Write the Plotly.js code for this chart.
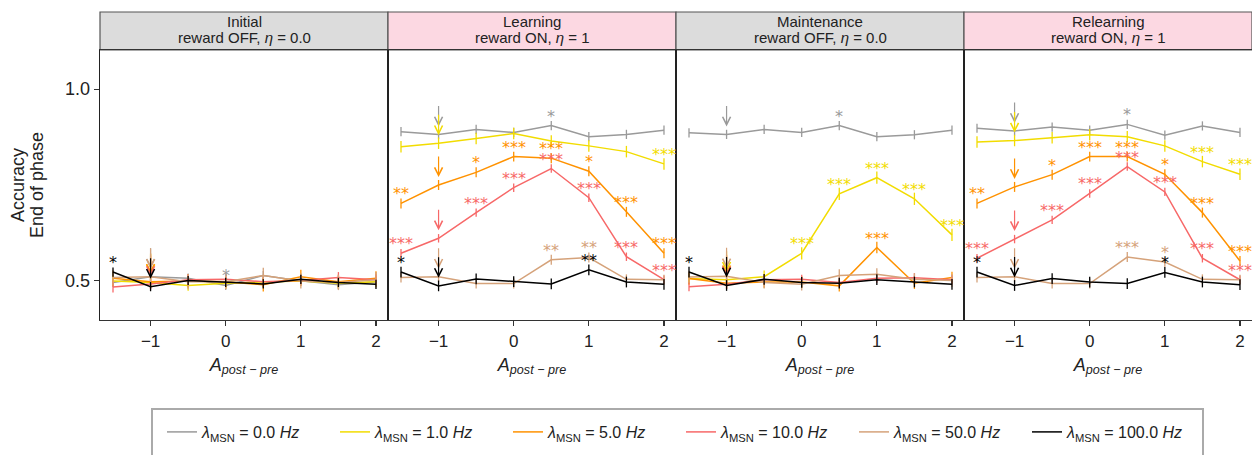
<!DOCTYPE html>
<html>
<head>
<meta charset="utf-8">
<script src="https://cdn.plot.ly/plotly-3.0.1.min.js"></script>
<style>html,body{margin:0;padding:0;background:#fff;}#chart{width:1252px;height:455px;}</style>
</head>
<body>
<div id="chart"></div>
<script>
// ---------------- data ----------------
const xVals = [-1.5, -1, -0.5, 0, 0.5, 1, 1.5, 2];
const rateLabels = ['0.0', '1.0', '5.0', '10.0', '50.0', '100.0'];
const phaseNames = ['Initial', 'Learning', 'Maintenance', 'Relearning'];
const phaseSubtitles = ['reward OFF, <i>η</i> = 0.0', 'reward ON, <i>η</i> = 1', 'reward OFF, <i>η</i> = 0.0', 'reward ON, <i>η</i> = 1'];
const rewardOn = [false, true, false, true];

// rows: lambda = 0, 1, 5, 10, 50, 100 Hz
const initialAcc = [
  [0.496, 0.511, 0.507, 0.488, 0.514, 0.500, 0.490, 0.498],
  [0.500, 0.496, 0.488, 0.494, 0.497, 0.500, 0.494, 0.498],
  [0.507, 0.498, 0.500, 0.498, 0.490, 0.511, 0.498, 0.507],
  [0.484, 0.492, 0.503, 0.504, 0.498, 0.501, 0.509, 0.503],
  [0.509, 0.511, 0.498, 0.498, 0.514, 0.500, 0.496, 0.503],
  [0.523, 0.485, 0.501, 0.496, 0.492, 0.504, 0.496, 0.491]
];
const learningAcc = [
  [0.889, 0.882, 0.895, 0.887, 0.905, 0.876, 0.882, 0.893],
  [0.850, 0.859, 0.871, 0.884, 0.865, 0.852, 0.837, 0.805],
  [0.702, 0.750, 0.783, 0.824, 0.820, 0.786, 0.680, 0.572],
  [0.572, 0.611, 0.678, 0.743, 0.793, 0.717, 0.563, 0.503],
  [0.509, 0.511, 0.493, 0.493, 0.555, 0.561, 0.504, 0.503],
  [0.523, 0.487, 0.505, 0.498, 0.492, 0.529, 0.497, 0.491]
];
const maintenanceAcc = [
  [0.886, 0.882, 0.895, 0.887, 0.905, 0.876, 0.881, 0.893],
  [0.506, 0.503, 0.511, 0.572, 0.727, 0.769, 0.714, 0.620],
  [0.506, 0.494, 0.497, 0.497, 0.487, 0.587, 0.494, 0.509],
  [0.485, 0.491, 0.503, 0.504, 0.496, 0.507, 0.508, 0.503],
  [0.510, 0.512, 0.496, 0.491, 0.514, 0.517, 0.504, 0.501],
  [0.523, 0.488, 0.504, 0.496, 0.494, 0.503, 0.497, 0.491]
];
const relearningAcc = [
  [0.898, 0.891, 0.901, 0.893, 0.908, 0.880, 0.904, 0.887],
  [0.862, 0.866, 0.873, 0.881, 0.876, 0.852, 0.811, 0.778],
  [0.702, 0.745, 0.777, 0.824, 0.824, 0.778, 0.678, 0.552],
  [0.559, 0.609, 0.659, 0.728, 0.798, 0.732, 0.559, 0.503],
  [0.509, 0.511, 0.493, 0.493, 0.562, 0.549, 0.504, 0.503],
  [0.523, 0.488, 0.506, 0.497, 0.493, 0.522, 0.497, 0.490]
];

// error half-widths per series (one value per lambda)
const initialErr     = [0.012, 0.014, 0.018, 0.014, 0.020, 0.012];
const learningErr    = [0.012, 0.015, 0.013, 0.011, 0.013, 0.014];
const maintenanceErr = [0.012, 0.016, 0.015, 0.012, 0.016, 0.014];
const relearningErr  = [0.012, 0.015, 0.013, 0.011, 0.013, 0.014];

// significance stars (vs. A = -1 reference)
const initialStars = [
  ['', '', '', '*', '', '', '', ''],
  ['', '', '', '', '', '', '', ''],
  ['', '', '', '', '', '', '', ''],
  ['', '', '', '', '', '', '', ''],
  ['', '', '', '', '', '', '', ''],
  ['*', '', '', '', '', '', '', '']
];
const learningStars = [
  ['', '', '', '', '*', '', '', ''],
  ['', '', '', '', '', '', '', '***'],
  ['**', '', '*', '***', '***', '*', '***', '***'],
  ['***', '', '***', '***', '***', '***', '***', '***'],
  ['', '', '', '', '**', '**', '', ''],
  ['*', '', '', '', '', '**', '', '']
];
const maintenanceStars = [
  ['', '', '', '', '*', '', '', ''],
  ['', '', '', '***', '***', '***', '***', '***'],
  ['', '', '', '', '', '***', '', ''],
  ['', '', '', '', '', '', '', ''],
  ['', '', '', '', '', '', '', ''],
  ['*', '', '', '', '', '', '', '']
];
const relearningStars = [
  ['', '', '', '', '*', '', '', ''],
  ['', '', '', '', '', '', '***', '***'],
  ['**', '', '*', '***', '***', '*', '***', '***'],
  ['***', '', '***', '***', '***', '***', '***', '***'],
  ['', '', '', '', '***', '*', '', ''],
  ['*', '', '', '', '', '*', '', '']
];
const referenceX = -1;

// ---------------- styling ----------------
const colors = ['#9a9a9a', '#f2dc00', '#ff9200', '#f76868', '#d5a27a', '#000000'];
const panelAcc = [initialAcc, learningAcc, maintenanceAcc, relearningAcc];
const panelErr = [initialErr, learningErr, maintenanceErr, relearningErr];
const panelStars = [initialStars, learningStars, maintenanceStars, relearningStars];
const FONT = 'Liberation Sans, Arial, sans-serif';

const traces = [];
const annotations = [];
const shapes = [];
const layout = {
  width: 1252, height: 455,
  margin: {l: 100, r: 0, t: 12, b: 135},
  paper_bgcolor: '#ffffff', plot_bgcolor: '#ffffff',
  font: {family: FONT, size: 16, color: '#222'},
  showlegend: true,
  legend: {
    orientation: 'h', xref: 'container', yref: 'container',
    x: 162 / 1252, xanchor: 'left', y: (455 - 432) / 455, yanchor: 'middle',
    font: {family: FONT, size: 16, color: '#222'},
    entrywidth: 128, entrywidthmode: 'pixels',
    bgcolor: 'rgba(0,0,0,0)', borderwidth: 0
  }
};

const yTop = 270 / 308;
for (let p = 0; p < 4; p++) {
  const xa = 'x' + (p === 0 ? '' : p + 1);
  const ya = 'y' + (p === 0 ? '' : p + 1);
  const xKey = 'xaxis' + (p === 0 ? '' : p + 1);
  const yKey = 'yaxis' + (p === 0 ? '' : p + 1);
  layout[xKey] = {
    domain: [p * 0.25, (p + 1) * 0.25], anchor: ya,
    range: [-1.673, 2.16], tickvals: [-1, 0, 1, 2], ticktext: ['−1', '0', '1', '2'],
    ticks: 'outside', ticklen: 5, tickcolor: '#333', tickwidth: 1.2,
    showline: true, mirror: true, linecolor: '#333', linewidth: 1.3,
    showgrid: false, zeroline: false, automargin: false,
    tickfont: {family: FONT, size: 17, color: '#222'},
    title: {text: '<i>A</i><sub><i>post − pre</i></sub>', font: {family: FONT, size: 18, color: '#222'}, standoff: 8}
  };
  layout[yKey] = {
    domain: [0, yTop], anchor: xa,
    range: [0.398, 1.102], tickvals: [0.5, 1.0], ticktext: ['0.5', '1.0'],
    ticks: p === 0 ? 'outside' : '', ticklen: 5, tickcolor: '#333', tickwidth: 1.2,
    showticklabels: p === 0,
    showline: true, mirror: true, linecolor: '#222', linewidth: 1.3,
    showgrid: false, zeroline: false, automargin: false,
    tickfont: {family: FONT, size: 18, color: '#222'}
  };
  // header strip
  shapes.push({
    type: 'rect', xref: xa + ' domain', yref: 'paper', x0: 0, x1: 1, y0: yTop, y1: 1,
    fillcolor: rewardOn[p] ? '#fcd8e2' : '#dcdcdc', line: {color: '#555', width: 1.2}, layer: 'below'
  });
  annotations.push({
    xref: xa + ' domain', yref: 'paper', x: 0.5, y: (320 - 21) / 308, xanchor: 'center', yanchor: 'middle',
    text: phaseNames[p], showarrow: false, font: {family: FONT, size: 15, color: '#222'}
  });
  annotations.push({
    xref: xa + ' domain', yref: 'paper', x: 0.5, y: (320 - 37) / 308, xanchor: 'center', yanchor: 'middle',
    text: phaseSubtitles[p], showarrow: false, font: {family: FONT, size: 15, color: '#222'}
  });

  const acc = panelAcc[p];
  for (let s = 0; s < acc.length; s++) {
    traces.push({
      type: 'scatter', mode: 'lines', x: xVals, y: acc[s], xaxis: xa, yaxis: ya,
      name: '<i>λ</i><sub>MSN</sub> = ' + rateLabels[s] + ' <i>Hz</i>',
      legendgroup: 'l' + s, showlegend: p === 0,
      line: {color: colors[s], width: 1.5},
      error_y: {type: 'data', array: xVals.map(() => panelErr[p][s]), visible: true, width: 0, thickness: 1.3, color: colors[s]},
      hoverinfo: 'skip'
    });
    // reference arrow at A = -1
    const ri = xVals.indexOf(referenceX);
    annotations.push({
      xref: xa, yref: ya, x: referenceX, y: acc[s][ri], ax: 0, ay: -30, axref: 'pixel', ayref: 'pixel',
      text: '', showarrow: true, arrowhead: 5, arrowsize: 1.3, arrowwidth: 1.2, arrowcolor: colors[s], standoff: 8
    });
    // stars
    const st = panelStars[p][s];
    for (let i = 0; i < xVals.length; i++) {
      if (!st[i]) continue;
      annotations.push({
        xref: xa, yref: ya, x: xVals[i], y: acc[s][i], xanchor: 'center', yanchor: 'bottom', yshift: -2,
        text: st[i], showarrow: false, font: {family: 'DejaVu Sans', size: 16, color: colors[s]}
      });
    }
  }
}

// y axis title (two lines)
annotations.push({xref: 'paper', yref: 'paper', x: (18 - 100) / 1152, y: (320 - 185) / 308, xanchor: 'center', yanchor: 'middle',
  textangle: -90, text: 'Accuracy', showarrow: false, font: {family: FONT, size: 18, color: '#222'}});
annotations.push({xref: 'paper', yref: 'paper', x: (37 - 100) / 1152, y: (320 - 185) / 308, xanchor: 'center', yanchor: 'middle',
  textangle: -90, text: 'End of phase', showarrow: false, font: {family: FONT, size: 18, color: '#222'}});

// legend frame
shapes.push({type: 'rect', xref: 'paper', yref: 'paper', x0: 52 / 1152, x1: 1103 / 1152, y0: (320 - 470) / 308, y1: (320 - 409) / 308,
  line: {color: '#aaaaaa', width: 2}, fillcolor: 'rgba(0,0,0,0)'});

layout.annotations = annotations;
layout.shapes = shapes;
Plotly.newPlot('chart', traces, layout, {staticPlot: true, displayModeBar: false});
</script>
</body>
</html>
